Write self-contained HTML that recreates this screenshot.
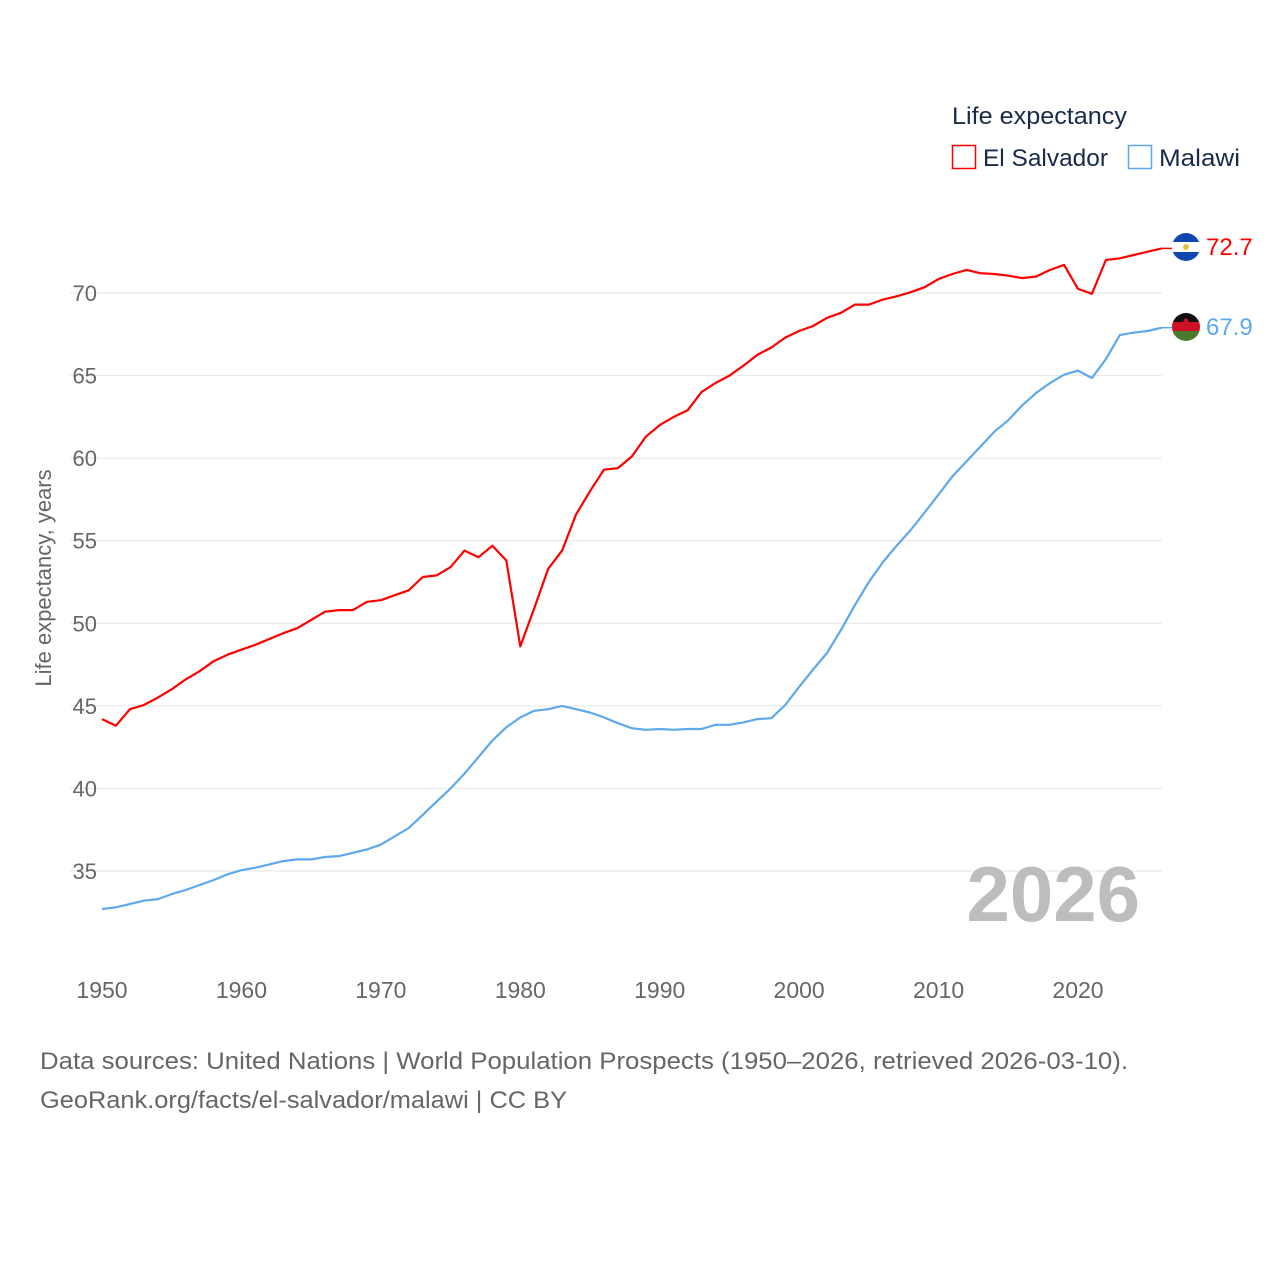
<!DOCTYPE html>
<html><head><meta charset="utf-8"><style>
body{margin:0;background:#fff;}
svg{display:block;font-family:"Liberation Sans",sans-serif;}
</style></head><body>
<svg id="chart" width="1280" height="1280" xmlns="http://www.w3.org/2000/svg">
<rect width="1280" height="1280" fill="#fff"/>
<g id="grid"></g>
<g id="yticks"></g>
<g id="xticks"></g>
<text transform="translate(51,578) rotate(-90)" text-anchor="middle" font-size="22" fill="#666">Life expectancy, years</text>
<text x="1140" y="921" text-anchor="end" font-size="78" font-weight="bold" fill="#bdbdbd">2026</text>
<g id="series"></g>
<g>
<text x="952" y="124" font-size="24" fill="#1a2a4a" textLength="175" lengthAdjust="spacingAndGlyphs">Life expectancy</text>
<g><rect x="952.5" y="145.5" width="23" height="23" fill="none" stroke="#ff0000" stroke-width="1.5"/><text x="983" y="166" font-size="24" fill="#1a2a4a" textLength="125" lengthAdjust="spacingAndGlyphs">El Salvador</text></g>
<g><rect x="1128.5" y="145.5" width="23" height="23" fill="none" stroke="#5ea8ee" stroke-width="1.5"/><text x="1159" y="166" font-size="24" fill="#1a2a4a" textLength="81" lengthAdjust="spacingAndGlyphs">Malawi</text></g>
</g>
<defs>
<clipPath id="c1"><circle cx="1186" cy="247" r="14"/></clipPath>
<clipPath id="c2"><circle cx="1186" cy="327" r="14"/></clipPath>
</defs>
<g clip-path="url(#c1)">
<rect x="1172" y="233" width="28" height="28" fill="#fff"/><rect x="1172" y="233" width="28" height="9" fill="#0f47af"/><rect x="1172" y="252" width="28" height="9" fill="#0f47af"/><circle cx="1186" cy="247" r="3" fill="#e8c33a"/>
</g>
<g clip-path="url(#c2)">
<rect x="1172" y="313" width="28" height="10" fill="#111"/><rect x="1172" y="322" width="28" height="10" fill="#ce1126"/><rect x="1172" y="331" width="28" height="10" fill="#4b7a2e"/><circle cx="1186" cy="321" r="2.5" fill="#ce1126"/>
</g>
<text x="1206" y="255" font-size="24" fill="#ff0000">72.7</text>
<text x="1206" y="335" font-size="24" fill="#5ea8ee">67.9</text>
<text x="40" y="1069" font-size="24" fill="#666" textLength="1088" lengthAdjust="spacingAndGlyphs">Data sources: United Nations | World Population Prospects (1950–2026, retrieved 2026-03-10).</text>
<text x="40" y="1108" font-size="24" fill="#666" textLength="527" lengthAdjust="spacingAndGlyphs">GeoRank.org/facts/el-salvador/malawi | CC BY</text>
</svg>
<script>
const startYear = 1950;
const yTicks = [35,40,45,50,55,60,65,70];
const xTicks = [1950,1960,1970,1980,1990,2000,2010,2020];
const elSalvador = [44.2,43.8,44.8,45.05,45.5,46.0,46.6,47.1,47.7,48.1,48.4,48.7,49.05,49.4,49.7,50.2,50.7,50.8,50.8,51.3,51.4,51.7,52.0,52.8,52.9,53.4,54.4,54.0,54.7,53.8,48.6,50.9,53.3,54.4,56.6,58.0,59.3,59.4,60.1,61.3,62.0,62.5,62.9,64.0,64.55,65.0,65.6,66.25,66.7,67.3,67.7,68.0,68.5,68.8,69.3,69.3,69.6,69.8,70.05,70.35,70.85,71.15,71.4,71.2,71.15,71.05,70.9,71.0,71.4,71.7,70.25,69.95,72.0,72.1,72.3,72.5,72.7];
const malawi = [32.7,32.8,33.0,33.2,33.3,33.6,33.85,34.15,34.45,34.8,35.05,35.2,35.4,35.6,35.7,35.7,35.85,35.9,36.1,36.3,36.6,37.1,37.6,38.4,39.2,40.0,40.9,41.9,42.9,43.7,44.3,44.7,44.8,45.0,44.8,44.6,44.3,43.95,43.65,43.55,43.6,43.55,43.6,43.6,43.85,43.85,44.0,44.2,44.25,45.05,46.15,47.2,48.2,49.6,51.1,52.5,53.7,54.7,55.65,56.7,57.8,58.9,59.8,60.7,61.6,62.3,63.2,63.95,64.55,65.05,65.3,64.85,66.0,67.45,67.6,67.7,67.9];

const NS="http://www.w3.org/2000/svg";
const xs = yr => 102 + (yr-1950)*(976/70);
const ys = v => 293 + (70-v)*(578/35);
function mk(tag, attrs, parent){const e=document.createElementNS(NS,tag);for(const k in attrs)e.setAttribute(k,attrs[k]);parent.appendChild(e);return e;}
const grid=document.getElementById('grid'), yt=document.getElementById('yticks'), xt=document.getElementById('xticks'), ser=document.getElementById('series');
yTicks.forEach(v=>{
  const l=mk('line',{x1:70,x2:1162,y1:ys(v),y2:ys(v),stroke:'#e6e6e6','stroke-width':1},grid);
  
  
  const t=mk('text',{x:97,y:ys(v)+8,'text-anchor':'end','font-size':22,fill:'#666'},yt);
  t.textContent=v;
  
  
});
xTicks.forEach(yr=>{
  const t=mk('text',{x:xs(yr),y:998,'text-anchor':'middle','font-size':23,fill:'#666'},xt);
  t.textContent=yr;
  
  
});
function line(data,color,name){
  const pts=data.map((v,i)=>xs(startYear+i).toFixed(1)+','+ys(v).toFixed(1)).join(' ');
  const p=mk('polyline',{points:pts,fill:'none',stroke:color,'stroke-width':2.2,'stroke-linejoin':'round'},ser);
  
  
  const last=data[data.length-1];
  const c=mk('line',{x1:xs(startYear+data.length-1),x2:1172,y1:ys(last),y2:ys(last),stroke:color,'stroke-width':1.5},ser);
  
  
}
line(elSalvador,'#ff0000','el-salvador-line');
line(malawi,'#5ea8ee','malawi-line');
</script>
</body></html>
